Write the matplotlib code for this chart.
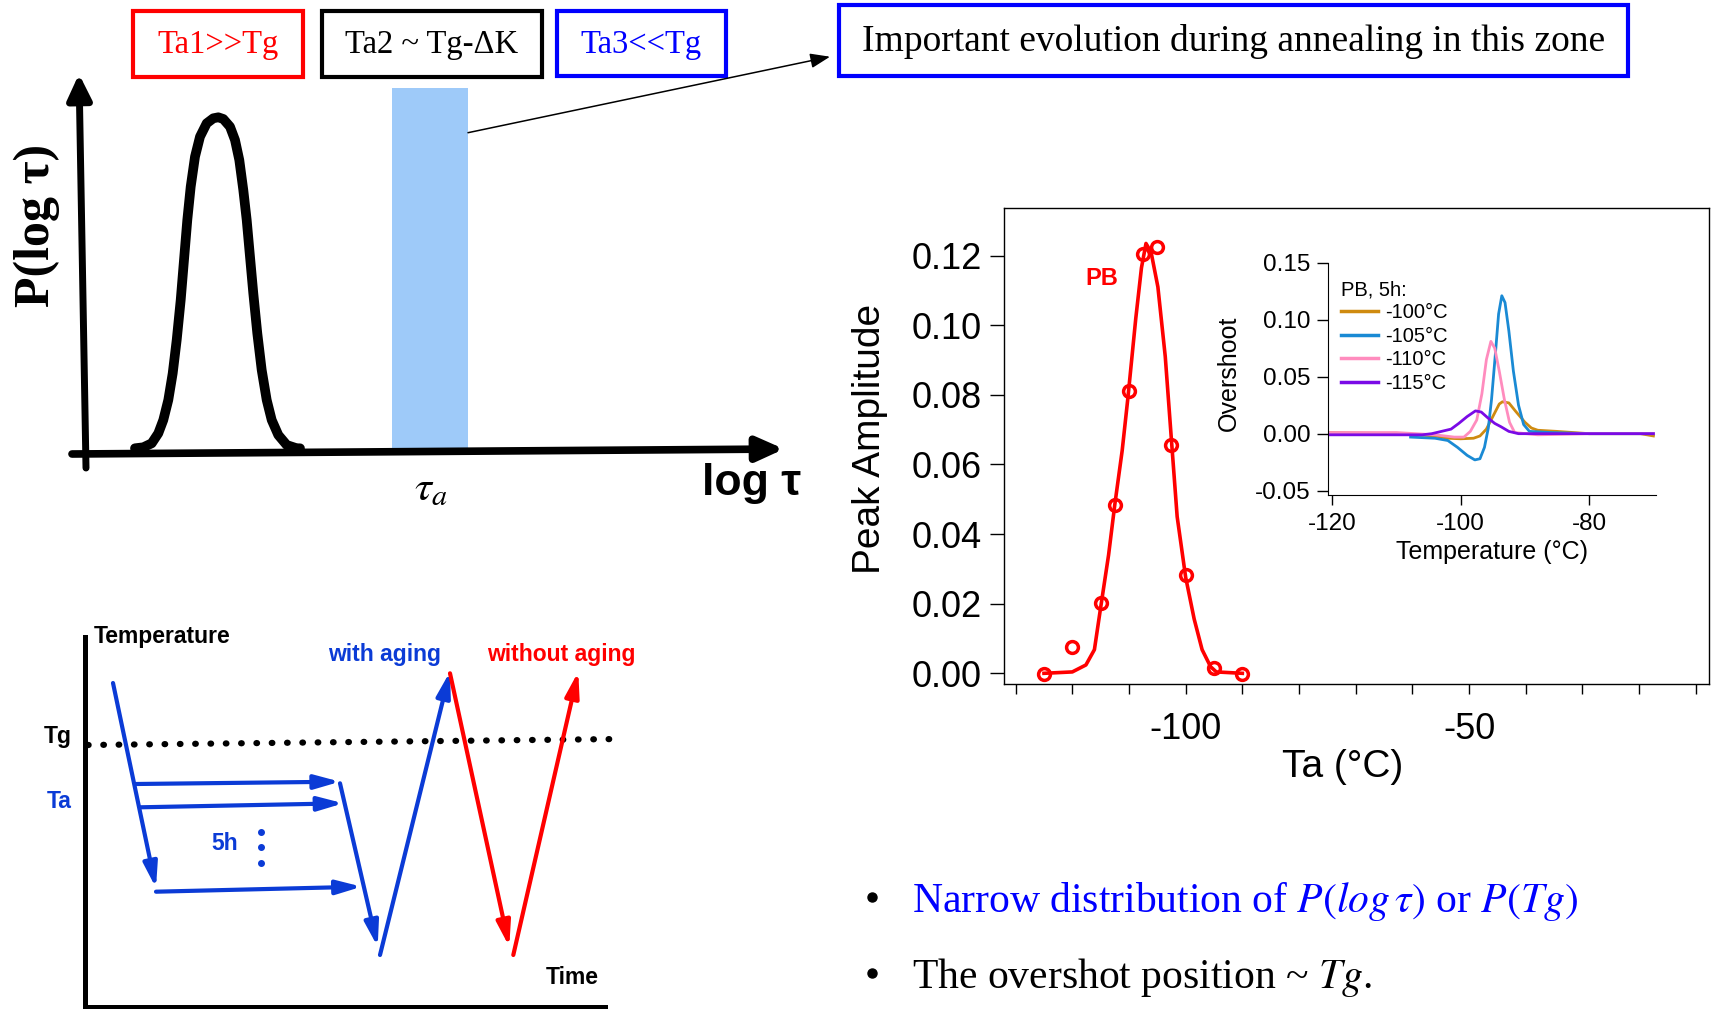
import matplotlib
matplotlib.use('Agg')
import matplotlib.pyplot as plt
from matplotlib.patches import Rectangle

plt.rcParams['font.family'] = ['Liberation Sans', 'DejaVu Sans']
plt.rcParams['axes.unicode_minus'] = False
plt.rcParams['mathtext.fontset'] = 'stix'

W, H = 1711, 1009
SERIF = ['Liberation Serif', 'DejaVu Serif']
BLUE_S = '#0B3BD6'   # blue of the time/temperature sketch
RED = '#FF0000'

# ---- main chart: peak amplitude vs Ta ----
ta_points = [-125, -120, -115, -112.5, -110, -107.5, -105, -102.5, -100, -95, -90]
amp_points = [-0.0003, 0.0076, 0.0201, 0.0483, 0.0812, 0.1204, 0.1226, 0.0655, 0.0282, 0.0016, -0.0003]
fit_ta = [-125, -120, -117.6, -116.1, -115.1, -113.6, -112.5, -111.2, -110.2, -108.8, -107.8,
          -107.0, -106.1, -104.9, -103.6, -102.6, -101.5, -100.0, -98.5, -97.1, -95.6, -94.6, -90]
fit_amp = [0.0, 0.0004, 0.0024, 0.0068, 0.0178, 0.034, 0.0485, 0.064, 0.079, 0.102, 0.1165,
           0.1235, 0.121, 0.111, 0.091, 0.069, 0.045, 0.0276, 0.0156, 0.0068, 0.0019, 0.0004, 0.0]
main_xticks = list(range(-130, -9, 10))
main_xlabels = [str(t) if t in (-100, -50) else '' for t in main_xticks]
main_yticks = [0.00, 0.02, 0.04, 0.06, 0.08, 0.10, 0.12]

# ---- inset: overshoot vs temperature, PB 5h ----
inset_labels = ['-100°C', '-105°C', '-110°C', '-115°C']
inset_colors = ['#CF8B10', '#1A8AD4', '#FF8CBE', '#7A0AE6']
t100 = [-120.5, -110, -104, -102, -100, -98, -97, -96, -95, -94, -93.5, -92.5, -91.5, -90, -89, -88, -85, -80, -72, -70]
o100 = [0.001, 0.0, -0.002, -0.004, -0.0045, -0.004, -0.002, 0.004, 0.015, 0.026, 0.028, 0.027,
        0.020, 0.010, 0.005, 0.003, 0.002, 0.0, 0.0, -0.002]
t105 = [-107.8, -104, -102, -100.5, -99, -97.8, -97, -96.3, -95.7, -95.2, -94.6, -94.1, -93.6,
        -93.1, -92.5, -91.8, -91.0, -90.2, -89.3, -86, -80, -70]
o105 = [-0.003, -0.004, -0.006, -0.012, -0.019, -0.023, -0.022, -0.012, 0.005, 0.03, 0.07, 0.105,
        0.121, 0.115, 0.09, 0.055, 0.025, 0.008, 0.002, 0.001, 0.0, 0.0]
t110 = [-120.5, -110, -104, -101, -99.5, -98.5, -97.5, -96.7, -96.0, -95.3, -94.7, -94.0, -93.2,
        -92.4, -91.6, -88, -80, -70]
o110 = [0.001, 0.001, -0.001, -0.003, -0.003, 0.002, 0.012, 0.035, 0.065, 0.081, 0.075, 0.055,
        0.030, 0.010, 0.001, -0.001, 0.0, 0.0]
t115 = [-120.5, -112, -106, -104.5, -103, -101.5, -100.3, -99, -97.7, -96.8, -95.8, -94.7, -93.7,
        -92.5, -91, -80, -70]
o115 = [-0.001, -0.001, -0.001, 0.0, 0.002, 0.004, 0.009, 0.015, 0.020, 0.019, 0.014, 0.009,
        0.006, 0.002, 0.0, 0.0, 0.0]
inset_t = [t100, t105, t110, t115]
inset_o = [o100, o105, o110, o115]
inset_xticks = [-120, -100, -80]
inset_yticks = [-0.05, 0.00, 0.05, 0.10, 0.15]

# ---- top-left sketch: P(log tau) (pixel positions of the sketch) ----
peak_x = [135, 143.3, 151.7, 158.3, 163.3, 168.3, 172.7, 176.7, 180.7, 184, 187.3, 190.7, 195,
          200, 206.7, 213.3, 218.3, 223.3, 230, 235, 239.3, 243.3, 246.7, 250, 253.3, 257.3,
          261.7, 266.7, 271.7, 278.3, 286.7, 296.7, 300]
peak_y = [448.3, 447.3, 443.3, 433.3, 420, 400, 373.3, 340, 300, 260, 220, 186.7, 156.7,
          136.7, 123.3, 118.3, 117.3, 119, 126.7, 140, 160, 190, 220, 256.7, 293.3, 333.3,
          370, 400, 420, 435, 445, 448.3, 448.3]
zone_box = (392.3, 88.3, 468, 450)
top_boxes = [('Ta1>>Tg', RED, (132.7, 11, 302.7, 76.7), 23.5),
             ('Ta2 ~ Tg-ΔK', 'black', (321.7, 11, 542.3, 77), 23.5),
             ('Ta3<<Tg', '#0000FF', (556.7, 11, 726, 76), 23.5),
             ('Important evolution during annealing in this zone', 'black', (839.3, 5, 1628, 76), 27)]
top_box_edges = [RED, 'black', '#0000FF', '#0000FF']

# ---- bottom-left sketch: thermal history ----
blue_arrows = [((113, 683), (156, 888)),
               ((136, 784), (340, 781.7)),
               ((140, 807.3), (343.3, 803.3)),
               ((156, 891.7), (361.7, 886.7)),
               ((340, 783.3), (377.7, 946.7)),
               ((380, 955), (450, 671.7))]
red_arrows = [((450, 673.3), (509.3, 946.7)),
              ((513.3, 955), (578.3, 671.7))]
tg_line = ([88, 620], [745, 739])

fig = plt.figure(figsize=(W / 100, H / 100), dpi=100)

# main axes
ax = fig.add_axes([1004.3 / W, 1 - 684 / H, (1709 - 1004.3) / W, (684 - 208.3) / H])
ax.patch.set_alpha(0)
ax.plot(fit_ta, fit_amp, color=RED, lw=2.6, solid_joinstyle='round')
ax.plot(ta_points, amp_points, 'o', mfc='none', mec=RED, ms=8.5, mew=2.5)
ax.set_xlim(-132.0, -7.66)
ax.set_ylim(-0.00307, 0.1336)
ax.set_xticks(main_xticks)
ax.set_xticklabels(main_xlabels)
ax.set_yticks(main_yticks)
ax.set_yticklabels(['%.2f' % v for v in main_yticks])
ax.tick_params(axis='y', direction='out', length=10, width=1, pad=6, labelsize=26)
ax.tick_params(axis='x', direction='out', length=7, width=1, pad=13, labelsize=26)
for s in ax.spines.values():
    s.set_linewidth(1.0)
ax.text(-114.8, 0.1133, 'PB', color=RED, fontsize=17, fontweight='bold', ha='center', va='center')

# inset axes
ins = fig.add_axes([1327.7 / W, 1 - 495 / H, (1656 - 1327.7) / W, (495 - 262.7) / H])
ins.patch.set_alpha(0)
for t, o, c, lab in zip(inset_t, inset_o, inset_colors, inset_labels):
    ins.plot(t, o, color=c, lw=2.0, label=lab)
ins.set_xlim(-120.7, -69.6)
ins.set_ylim(-0.0538, 0.15)
ins.set_xticks(inset_xticks)
ins.set_yticks(inset_yticks)
ins.set_yticklabels(['%.2f' % v for v in inset_yticks])
ins.spines['top'].set_visible(False)
ins.spines['right'].set_visible(False)
ins.tick_params(axis='y', direction='out', length=8, width=1, pad=4.5, labelsize=17.5)
ins.tick_params(axis='x', direction='out', length=7, width=1, pad=6, labelsize=17.5)
leg = ins.legend(title='PB, 5h:', loc='upper left', bbox_to_anchor=(1341 / W, 1 - 280 / H),
                 bbox_transform=fig.transFigure, frameon=False, fontsize=14.5, title_fontsize=14.5,
                 handlelength=1.85, handletextpad=0.35, labelspacing=0.22, borderpad=0,
                 borderaxespad=0, alignment='left')
for line in leg.get_lines():
    line.set_linewidth(2.5)

# drawing layer in pixel units of the slide
cv = fig.add_axes([0, 0, 1, 1], zorder=5)
cv.set_xlim(0, W)
cv.set_ylim(H, 0)
cv.axis('off')


def arrow(start, tip, color, lw, hl, hw, ms=10):
    cv.annotate('', xy=tip, xytext=start,
                arrowprops=dict(arrowstyle='-|>,head_length=%g,head_width=%g' % (hl, hw),
                                color=color, lw=lw, shrinkA=0, shrinkB=0, mutation_scale=ms))


# chart labels
cv.text(870, 439, 'Peak Amplitude', rotation=90, fontsize=28, ha='center', va='center')
cv.text(1343, 767, 'Ta (°C)', fontsize=28, ha='center', va='center')
cv.text(1229, 373, 'Overshoot', rotation=90, fontsize=18, ha='center', va='center')
cv.text(1492, 552, 'Temperature (°C)', fontsize=18, ha='center', va='center')

# top-left sketch
x0, y0, x1, y1 = zone_box
cv.add_patch(Rectangle((x0, y0), x1 - x0, y1 - y0, facecolor='#9ECAF9', edgecolor='none', zorder=1))
arrow((86, 468), (79, 74), 'black', 5, 0.75, 0.36, ms=20)
arrow((72, 454), (784, 449), 'black', 5.5, 0.8, 0.36, ms=20)
cv.plot(peak_x, peak_y, color='black', lw=7, solid_joinstyle='round', solid_capstyle='round', zorder=3)
arrow((468, 132.7), (830, 56.7), 'black', 1.1, 1.2, 0.45, ms=10)
for (txt, tc, (bx0, by0, bx1, by1), fs), ec in zip(top_boxes, top_box_edges):
    cv.add_patch(Rectangle((bx0, by0), bx1 - bx0, by1 - by0, fill=False, edgecolor=ec, lw=3))
    cv.text((bx0 + bx1) / 2, (by0 + by1) / 2 + 1, txt, color=tc, family=SERIF, fontsize=fs,
            ha='center', va='center')
cv.text(37, 225, 'P(log τ)', rotation=90, family=SERIF, fontweight='bold', fontsize=36,
        ha='center', va='center')
cv.text(752, 483, 'log τ', fontweight='bold', fontsize=32, ha='center', va='center')
cv.text(431, 489, r'$\tau_a$', fontsize=31, ha='center', va='center')

# bottom-left sketch
cv.plot([85, 85, 605], [636.7, 1006.7, 1006.7], color='black', lw=3.6, solid_joinstyle='miter')
cv.plot(tg_line[0], tg_line[1], color='black', lw=4.5, linestyle=(0, (0.1, 2.35)),
        dash_capstyle='round')
for s, t in blue_arrows:
    arrow(s, t, BLUE_S, 3.0, 1.5, 0.42)
for s, t in red_arrows:
    arrow(s, t, RED, 3.0, 1.5, 0.42)
cv.text(94, 637, 'Temperature', fontweight='bold', fontsize=16.5, ha='left', va='center')
cv.text(72, 737, 'Tg', fontweight='bold', fontsize=16.5, ha='right', va='center')
cv.text(72, 802, 'Ta', color=BLUE_S, fontweight='bold', fontsize=16.5, ha='right', va='center')
cv.text(385, 655, 'with aging', color=BLUE_S, fontweight='bold', fontsize=16.5, ha='center', va='center')
cv.text(561, 655, 'without aging', color=RED, fontweight='bold', fontsize=16.5, ha='center', va='center')
cv.text(225, 843, '5h', color=BLUE_S, fontweight='bold', fontsize=16.5, ha='center', va='center')
cv.plot([261, 261, 261], [831.7, 847.3, 862.7], 'o', color=BLUE_S, ms=4)
cv.text(572.5, 978, 'Time', fontweight='bold', fontsize=16.5, ha='center', va='center')

# bullets
cv.plot([871.7, 871.7], [896.7, 973.3], 'o', color='black', ms=6.5)
cv.text(911.7, 911.7, r'Narrow distribution of $P(log\,\tau)$ or $P(Tg)$', color='#0000FF',
        family=SERIF, fontsize=30, ha='left', va='baseline')
cv.text(911.7, 988.3, r'The overshot position ~ $Tg$.', color='black',
        family=SERIF, fontsize=30, ha='left', va='baseline')

fig.savefig('out.png', dpi=100)
